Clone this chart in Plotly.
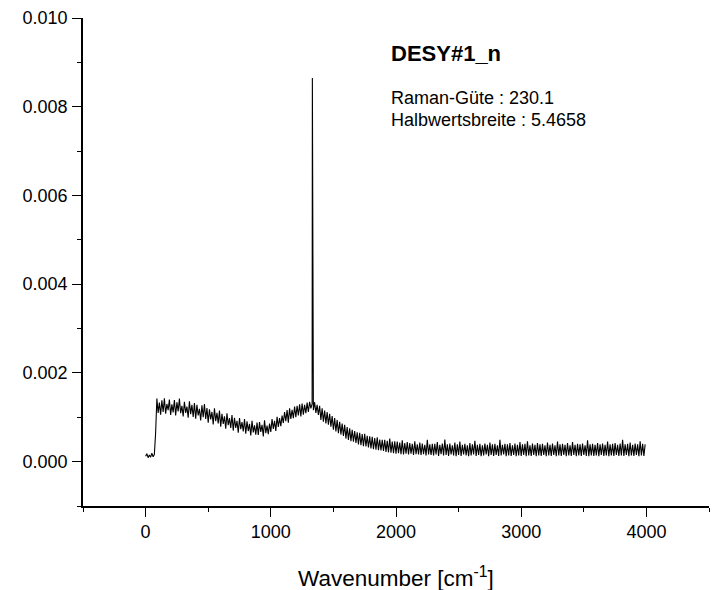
import numpy as np
import plotly.graph_objects as go

# Raman spectrum of DESY#1_n (intensity in units of 1e-4)
start_wavenumber = 0
step_wavenumber = 10
intensity_e4 = [
    1.2, 1.8, 0.9, 1.5, 1.0, 1.9, 1.1, 1.6, 6.5, 14.2,
    11.0, 13.3, 10.6, 13.8, 11.2, 14.3, 10.8, 13.0, 11.6, 14.0,
    10.5, 12.9, 11.1, 13.9, 10.4, 13.4, 11.3, 14.2, 10.9, 12.6,
    10.2, 13.5, 11.0, 12.4, 9.9, 13.6, 10.7, 12.8, 10.1, 13.2,
    9.7, 12.8, 10.4, 11.9, 9.3, 12.7, 10.0, 13.0, 9.6, 12.1,
    8.8, 11.8, 9.5, 11.2, 8.4, 12.0, 9.1, 11.0, 8.6, 11.5,
    7.9, 10.8, 8.5, 10.2, 7.4, 10.9, 8.2, 9.8, 7.6, 10.5,
    7.0, 9.9, 7.6, 9.2, 6.5, 9.8, 7.3, 8.9, 6.8, 9.6,
    6.3, 9.1, 6.9, 8.5, 5.9, 9.2, 6.6, 8.2, 6.1, 8.8,
    6.0, 8.9, 6.7, 8.3, 5.7, 9.3, 6.4, 8.1, 6.2, 8.6,
    6.7, 9.6, 7.4, 9.2, 6.9, 10.1, 7.8, 9.8, 8.0, 10.4,
    8.7, 11.2, 9.1, 11.6, 8.8, 12.0, 9.6, 11.7, 9.8, 12.4,
    10.0, 12.6, 10.4, 12.9, 10.2, 13.1, 10.6, 12.8, 10.9, 13.3,
    11.2, 13.5, 12.0, 13.0, 11.6, 13.4, 11.0, 12.8, 10.5, 12.6,
    9.4, 12.0, 9.0, 11.5, 8.6, 11.2, 8.3, 10.8, 7.9, 10.3,
    7.2, 9.8, 6.8, 9.4, 6.4, 9.0, 6.1, 8.6, 5.8, 8.3,
    5.2, 7.8, 4.9, 7.5, 4.6, 7.2, 4.5, 6.9, 4.2, 6.6,
    3.9, 6.5, 3.7, 6.2, 3.5, 6.3, 3.4, 5.8, 3.2, 5.7,
    3.0, 5.6, 2.8, 5.3, 2.7, 5.5, 2.6, 5.0, 2.5, 4.9,
    2.4, 4.9, 2.2, 4.7, 2.1, 5.2, 2.0, 4.5, 1.9, 4.6,
    1.8, 4.5, 1.9, 4.3, 1.7, 4.8, 1.6, 4.2, 1.8, 4.4,
    1.6, 4.2, 1.8, 4.0, 1.5, 4.6, 1.7, 3.9, 1.6, 4.3,
    1.5, 4.1, 1.7, 3.8, 1.4, 4.9, 1.6, 3.9, 1.5, 4.0,
    1.4, 4.0, 1.6, 4.4, 1.3, 3.8, 1.7, 4.1, 1.4, 5.0,
    1.5, 3.9, 1.3, 4.1, 1.6, 3.7, 1.4, 4.3, 1.2, 3.9,
    1.5, 4.5, 1.3, 3.8, 1.6, 4.0, 1.4, 3.7, 1.2, 4.2,
    1.4, 3.9, 1.6, 4.7, 1.3, 3.8, 1.5, 4.0, 1.2, 3.7,
    1.4, 4.1, 1.6, 3.8, 1.2, 4.3, 1.5, 3.9, 1.3, 4.0,
    1.5, 3.7, 1.3, 4.9, 1.4, 3.8, 1.6, 4.0, 1.2, 3.9,
    1.4, 4.2, 1.3, 3.7, 1.5, 4.1, 1.2, 3.8, 1.4, 4.4,
    1.3, 3.9, 1.5, 4.0, 1.2, 4.6, 1.4, 3.7, 1.3, 4.1,
    1.5, 3.8, 1.2, 4.2, 1.4, 3.9, 1.3, 4.0, 1.5, 3.7,
    1.2, 4.3, 1.4, 3.8, 1.3, 4.1, 1.5, 3.7, 1.2, 4.5,
    1.4, 3.9, 1.3, 4.0, 1.5, 3.8, 1.2, 4.2, 1.4, 3.7,
    1.3, 4.4, 1.5, 3.8, 1.2, 4.0, 1.4, 3.9, 1.3, 4.1,
    1.5, 3.7, 1.3, 4.8, 1.2, 3.9, 1.4, 4.0, 1.3, 3.8,
    1.4, 4.2, 1.2, 3.9, 1.5, 4.1, 1.3, 3.8, 1.4, 4.5,
    1.2, 3.9, 1.4, 4.0, 1.3, 4.2, 1.5, 3.8, 1.3, 4.1,
    1.4, 4.9, 1.3, 3.9, 1.5, 4.0, 1.2, 4.3, 1.4, 3.8,
    1.3, 4.1, 1.5, 3.9, 1.2, 4.6, 1.4, 4.0, 1.3, 3.9,
]
# the sharp diamond line near 1332 cm-1
peak_wavenumber = [1332, 1335]
peak_intensity_e4 = [86.5, 14.0]

x_ticks = [0, 1000, 2000, 3000, 4000]
x_minor = [-500, 500, 1500, 2500, 3500, 4500]
y_ticks = [0.000, 0.002, 0.004, 0.006, 0.008, 0.010]
y_minor = [-0.001, 0.001, 0.003, 0.005, 0.007, 0.009]

title_text = "DESY#1_n"
info_lines = ["Raman-Güte : 230.1", "Halbwertsbreite : 5.4658"]
x_title = "Wavenumber [cm<sup>-1</sup>]"

grid_x = start_wavenumber + step_wavenumber * np.arange(len(intensity_e4))
all_x = np.concatenate([grid_x, peak_wavenumber])
all_y = np.concatenate([intensity_e4, peak_intensity_e4]) * 1e-4
order = np.argsort(all_x, kind="stable")
all_x = all_x[order]
all_y = all_y[order]

FONT = "Liberation Sans, Arial, sans-serif"

fig = go.Figure()
fig.add_trace(go.Scatter(x=all_x, y=all_y, mode="lines",
                         line=dict(color="black", width=1.1), showlegend=False))

axis_common = dict(
    showgrid=False, zeroline=False, showline=True, linecolor="black", linewidth=1.6,
    ticks="outside", ticklen=9, tickwidth=1.4, tickcolor="black",
    tickfont=dict(family=FONT, size=18, color="black"),
)
minor_common = dict(ticks="outside", ticklen=4, tickwidth=1.4, tickcolor="black")
fig.update_xaxes(range=[-500, 4500], tickvals=x_ticks, ticktext=[str(v) for v in x_ticks],
                 minor=dict(tickvals=x_minor, **minor_common),
                 ticklabelstandoff=0, **axis_common)
fig.update_yaxes(range=[-0.001, 0.010], tickvals=y_ticks, ticktext=[f"{v:.3f}" for v in y_ticks],
                 minor=dict(tickvals=y_minor, **minor_common),
                 ticklabelstandoff=1, **axis_common)

fig.add_annotation(x=0.489, y=0.928, xref="paper", yref="paper", xanchor="left", yanchor="middle",
                   text=f"<b>{title_text}</b>", showarrow=False,
                   font=dict(family=FONT, size=22, color="black"))
for i, line in enumerate(info_lines):
    fig.add_annotation(x=0.489, y=0.837 - 0.047 * i, xref="paper", yref="paper",
                       xanchor="left", yanchor="middle", text=line, showarrow=False,
                       font=dict(family=FONT, size=18, color="black"))
fig.add_annotation(x=0.5, y=-0.145, xref="paper", yref="paper", xanchor="center", yanchor="middle",
                   text=x_title, showarrow=False, font=dict(family=FONT, size=22.5, color="black"))

fig.update_layout(width=717, height=590, margin=dict(l=83, r=8, t=15, b=84),
                  plot_bgcolor="white", paper_bgcolor="white")
fig.write_html("out.html")
